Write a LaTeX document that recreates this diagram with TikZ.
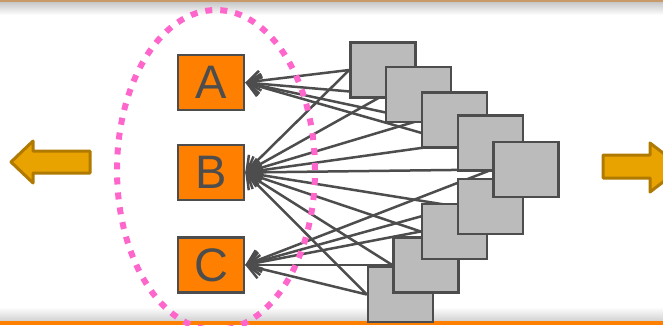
\documentclass[tikz,border=0pt]{standalone}
\usepackage{fontspec}
\setmainfont{Liberation Sans}
\usetikzlibrary{arrows.meta,backgrounds}
\definecolor{edgegray}{HTML}{4D4D4D}
\definecolor{boxorange}{HTML}{FF8000}
\definecolor{unitgray}{HTML}{BBBBBB}
\definecolor{ringpink}{HTML}{FF66CC}
\definecolor{goldfill}{HTML}{E8A300}
\definecolor{golddraw}{HTML}{B07A00}
\definecolor{topline}{HTML}{C89A6A}
\tikzset{
  label box/.style={draw=edgegray, line width=2.5pt, fill=boxorange,
    minimum width=66pt, minimum height=55pt, inner sep=0pt,
    text=edgegray, font=\fontsize{47}{47}\selectfont},
  unit/.style={draw=edgegray, line width=2.5pt, fill=unitgray,
    minimum width=65pt, minimum height=55pt, inner sep=0pt},
  link/.style={draw=edgegray, line width=2.5pt,
    -{Straight Barb[length=13pt,width=20pt]}},
  side arrow/.style={fill=goldfill, draw=golddraw, line width=3pt, line join=round}
}
\begin{document}
\begin{tikzpicture}[x=1pt,y=1pt]
\clip (0,0) rectangle (663,325);

% frame of the slide
\shade[top color=black!22, bottom color=white] (0,310) rectangle (663,323);
\fill[topline] (0,323) rectangle (663,325);
\shade[top color=white, bottom color=black!18] (0,4) rectangle (663,18);
\fill[boxorange] (0,0) rectangle (663,4);

% outputs A, B, C
\node[label box] (A) at (211,242.5) {A};
\node[label box] (B) at (211,152.5) {B};
\node[label box] (C) at (211,60) {C};

% stacked units, back to front
\foreach \i/\x/\y in {9/400.5/30.5, 8/426/60, 7/454.5/93.5, 6/490.5/118.5,
    1/383/255, 2/418.5/230.5, 3/454.5/205, 4/490.5/182, 5/526/155.5} {
  \node[unit] (g\i) at (\x,\y) {};
}

% links from the units to the outputs
\begin{scope}[on background layer]
  \fill[white] (0,0) rectangle (663,325);
  \foreach \i in {1,...,4} {
    \draw[link] (g\i.west) -- (A.east);
  }
  \foreach \i in {1,...,9} {
    \draw[link] (g\i.west) -- (B.east);
  }
  \foreach \i in {5,...,9} {
    \draw[link] (g\i.west) -- (C.east);
  }
\end{scope}

% dotted ring round the outputs
\draw[ringpink, line width=6pt, dash pattern=on 7pt off 8pt]
  (216,155) ellipse [x radius=99, y radius=160];

% side arrows
\draw[side arrow] (11,163) -- (33,184) -- (33,174) -- (90,174)
  -- (90,152) -- (33,152) -- (33,142) -- cycle;
\draw[side arrow] (682,157.5) -- (650,182) -- (650,170) -- (603,170)
  -- (603,147) -- (650,147) -- (650,133) -- cycle;
\end{tikzpicture}
\end{document}
